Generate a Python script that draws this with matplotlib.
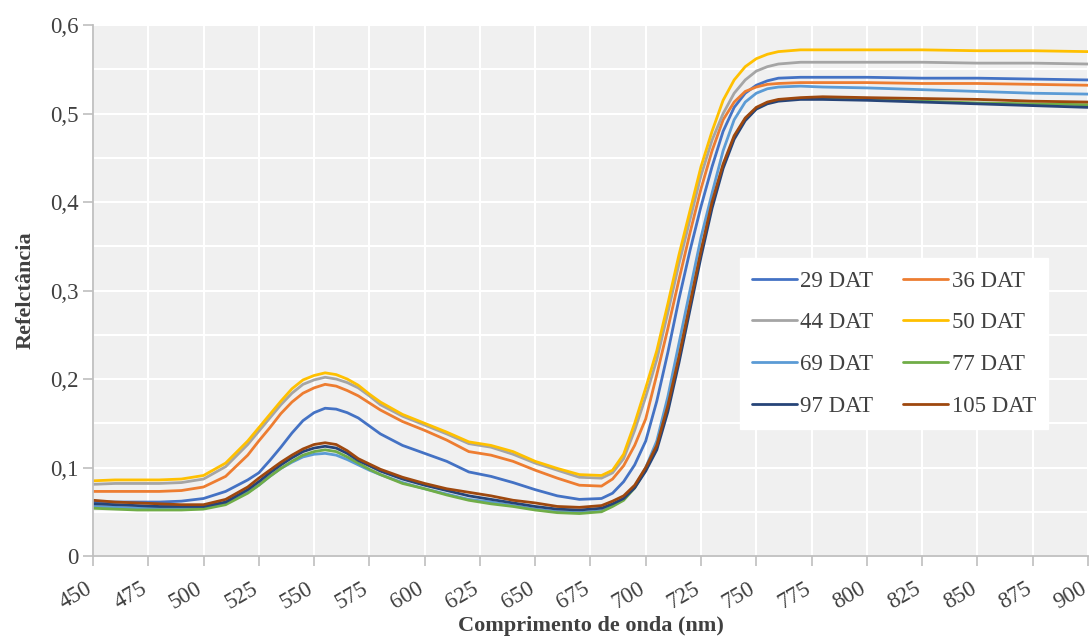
import matplotlib
matplotlib.use("Agg")
import matplotlib.pyplot as plt
import matplotlib.transforms as mtransforms
from matplotlib.ticker import MultipleLocator, FuncFormatter

# comprimento de onda (nm)
wl = [450, 460, 470, 480, 490, 500, 510, 520, 525, 530, 535, 540, 545, 550, 555, 560, 565, 570, 575, 580, 590,
      600, 610, 620, 630, 640, 650, 660, 670, 680, 685, 690, 695, 700, 705, 710, 715,
      720, 725, 730, 735, 740, 745, 750, 755, 760, 770, 780, 800, 825, 850, 875, 900]

dat29 = [.061, .061, .061, .061, .062, .065, .073, .086, .094, .108, .123, .139, .153, .162, .167, .166, .162, .156, .147, .138, .125,
         .116, .107, .095, .090, .083, .075, .068, .064, .065, .071, .084, .103, .130, .175, .230, .290,
         .345, .395, .440, .480, .507, .523, .532, .537, .540, .541, .541, .541, .540, .540, .539, .538]
dat36 = [.073, .073, .073, .073, .074, .078, .090, .114, .130, .145, .161, .174, .184, .190, .194, .192, .187, .181, .173, .165, .152,
         .142, .131, .118, .114, .107, .097, .088, .080, .079, .087, .102, .125, .155, .205, .257, .312,
         .365, .415, .458, .493, .513, .525, .530, .533, .534, .535, .535, .535, .534, .534, .533, .532]
dat44 = [.081, .082, .082, .082, .083, .087, .101, .126, .141, .156, .171, .184, .194, .199, .202, .200, .196, .190, .181, .171, .158,
         .148, .138, .127, .123, .115, .105, .097, .089, .088, .094, .110, .142, .180, .222, .275, .330,
         .380, .430, .470, .500, .523, .538, .548, .553, .556, .558, .558, .558, .558, .557, .557, .556]
dat50 = [.085, .086, .086, .086, .087, .091, .105, .130, .145, .160, .175, .189, .199, .204, .207, .205, .200, .193, .183, .174, .160,
         .150, .140, .129, .125, .118, .107, .099, .092, .091, .097, .115, .150, .190, .232, .285, .340,
         .390, .440, .480, .515, .538, .553, .562, .567, .570, .572, .572, .572, .572, .571, .571, .570]
dat69 = [.056, .055, .054, .054, .054, .055, .060, .072, .080, .090, .099, .106, .112, .115, .116, .114, .109, .103, .097, .092, .083,
         .076, .070, .064, .061, .057, .053, .050, .049, .051, .057, .064, .078, .100, .130, .180, .240,
         .300, .360, .410, .458, .493, .513, .523, .528, .530, .531, .530, .529, .527, .525, .523, .522]
dat77 = [.054, .053, .052, .052, .052, .053, .058, .071, .080, .090, .099, .107, .114, .118, .120, .118, .112, .105, .098, .092, .082,
         .076, .069, .063, .059, .056, .052, .049, .048, .050, .056, .063, .077, .098, .124, .168, .223,
         .283, .343, .398, .441, .473, .494, .506, .512, .515, .517, .517, .516, .514, .512, .511, .510]
dat97 = [.059, .058, .057, .056, .056, .056, .061, .075, .084, .094, .103, .111, .118, .122, .124, .122, .116, .108, .102, .096, .087,
         .080, .074, .068, .064, .060, .056, .053, .052, .054, .059, .065, .077, .096, .120, .163, .218,
         .278, .338, .393, .438, .471, .492, .505, .511, .514, .516, .516, .515, .513, .511, .509, .507]
dat105 = [.063, .061, .060, .059, .058, .058, .064, .078, .088, .097, .106, .114, .121, .126, .128, .126, .119, .110, .104, .098, .089,
          .082, .076, .072, .068, .063, .060, .056, .055, .057, .062, .068, .080, .100, .125, .170, .225,
          .285, .345, .400, .443, .475, .495, .507, .513, .516, .518, .519, .518, .517, .516, .514, .513]

labels = ["29 DAT", "36 DAT", "44 DAT", "50 DAT", "69 DAT", "77 DAT", "97 DAT", "105 DAT"]
series = [dat29, dat36, dat44, dat50, dat69, dat77, dat97, dat105]
colors = ["#4472C4", "#ED7D31", "#A5A5A5", "#FFC000", "#5B9BD5", "#70AD47", "#264478", "#9E480E"]

plt.rcParams["font.family"] = ["Liberation Serif", "DejaVu Serif"]
txt = "#404040"

fig = plt.figure(figsize=(10.91, 6.38), dpi=100)
ax = fig.add_axes([0.0852, 0.1285, 0.912, 0.8322])
ax.set_facecolor("#F0F0F0")

lines = []
for y, lab, c in zip(series, labels, colors):
    ln, = ax.plot(wl, y, color=c, lw=2.0, label=lab, solid_capstyle="round")
    lines.append(ln)

ax.set_xlim(450, 900)
ax.set_ylim(0, 0.6)
ax.xaxis.set_major_locator(MultipleLocator(25))
ax.yaxis.set_major_locator(MultipleLocator(0.1))
ax.yaxis.set_minor_locator(MultipleLocator(0.05))
ax.yaxis.set_major_formatter(FuncFormatter(lambda v, p: "0" if abs(v) < 1e-9 else f"{v:.1f}".replace(".", ",")))

ax.grid(True, which="major", axis="both", color="white", lw=1.5)
ax.grid(True, which="minor", axis="y", color="white", lw=1.5)
ax.set_axisbelow(True)

for s in ["top", "right"]:
    ax.spines[s].set_visible(False)
for s in ["left", "bottom"]:
    ax.spines[s].set_color("#BFBFBF")
    ax.spines[s].set_linewidth(1.3)

ax.tick_params(axis="both", which="major", colors="#BFBFBF", labelcolor=txt, labelsize=16.5, length=7, width=1.2)
ax.tick_params(axis="y", which="minor", length=0)
ax.tick_params(axis="x", pad=9)
shift = mtransforms.ScaledTranslation(-8 / 100, 0, fig.dpi_scale_trans)
for lbl in ax.get_xticklabels():
    lbl.set_rotation(30)
    lbl.set_ha("right")
    lbl.set_rotation_mode("anchor")
    lbl.set_transform(lbl.get_transform() + shift)

ax.set_xlabel("Comprimento de onda (nm)", fontsize=16, fontweight="bold", color=txt, labelpad=2)
ax.set_ylabel("Refelctância", fontsize=16, fontweight="bold", color=txt, labelpad=10)

# ordem por linha, como no original
order = [0, 2, 4, 6, 1, 3, 5, 7]
leg = ax.legend([lines[i] for i in order], [labels[i] for i in order], ncol=2,
                loc="upper left", bbox_to_anchor=(0.650, 0.561), fontsize=16.5,
                frameon=True, fancybox=False, edgecolor="white", framealpha=1,
                handlelength=1.95, handletextpad=0.15, columnspacing=1.3, labelspacing=0.9,
                borderpad=0.55, borderaxespad=0)
for t in leg.get_texts():
    t.set_color(txt)

fig.savefig("out.png", dpi=100)
